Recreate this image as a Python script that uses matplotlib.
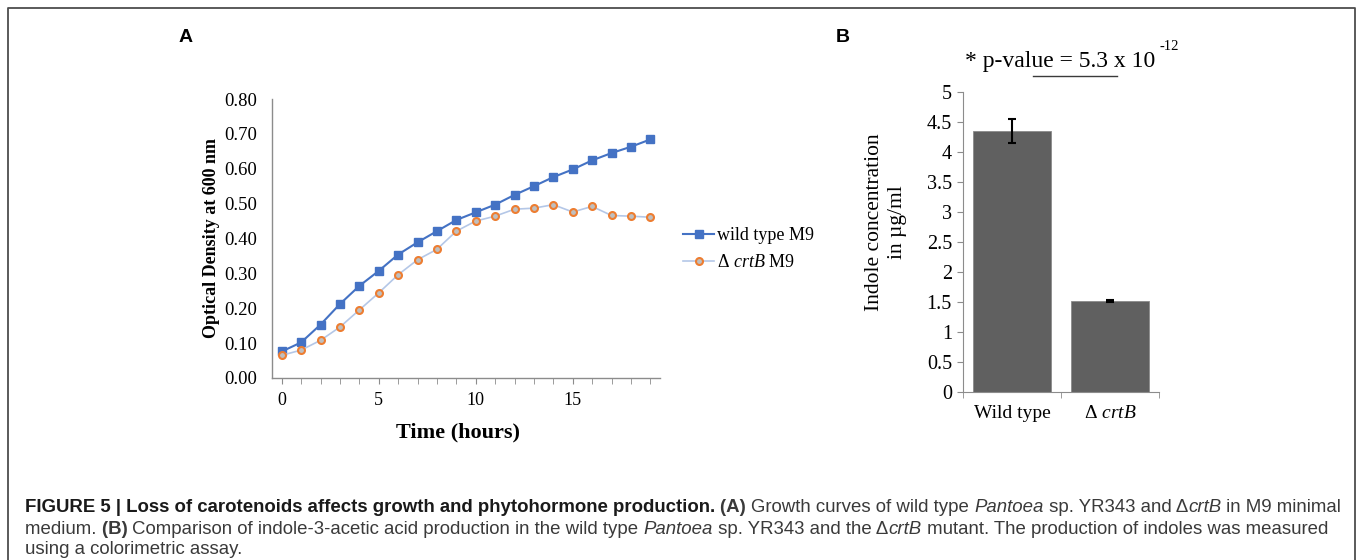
"""
Growth curves and indole production, wild type vs crtB mutant
"""
import matplotlib
matplotlib.use("Agg")
import matplotlib.pyplot as plt
from matplotlib.lines import Line2D

# panel A: optical density over time
hours = list(range(20))
od_wild = [0.076, 0.102, 0.153, 0.212, 0.264, 0.307, 0.354, 0.389, 0.421, 0.453,
           0.475, 0.497, 0.525, 0.550, 0.576, 0.598, 0.624, 0.645, 0.663, 0.684]
od_crtb = [0.065, 0.080, 0.108, 0.146, 0.195, 0.244, 0.296, 0.339, 0.369, 0.421,
           0.450, 0.464, 0.484, 0.487, 0.497, 0.476, 0.492, 0.466, 0.464, 0.461]
series_labels = ["wild type M9", "Δ $\\mathit{crtB}$ M9"]

# panel B: indole concentration
strains = ["Wild type", "Δ $\\mathit{crtB}$"]
indole = [4.35, 1.52]
indole_err = [0.20, 0.02]

W, H = 1357, 560
plt.rcParams["mathtext.fontset"] = "custom"
plt.rcParams["mathtext.rm"] = "Liberation Serif"
plt.rcParams["mathtext.it"] = "Liberation Serif:italic"
plt.rcParams["mathtext.bf"] = "Liberation Serif:bold"
SERIF = "Liberation Serif"
SANS = "Liberation Sans"


def box(x0, y0, x1, y1):
    # pixel box (top-left origin) -> figure rect
    return [x0 / W, 1 - y1 / H, (x1 - x0) / W, (y1 - y0) / H]


def fx(x):
    return x / W


def fy(y):
    return 1 - y / H


fig = plt.figure(figsize=(W / 100, H / 100), dpi=100)

# outer frame (open at bottom)
fig.add_artist(Line2D([fx(8), fx(8), fx(1355), fx(1355)], [0, fy(8), fy(8), 0],
                      color="#4d4d4d", lw=1.3, transform=fig.transFigure))

# ---------- panel A ----------
ax = fig.add_axes(box(272, 99, 660, 378))
ax.plot(hours, od_wild, color="#4472C4", lw=1.5, marker="s", ms=5.5,
        markerfacecolor="#4472C4", markeredgecolor="#4472C4", label=series_labels[0])
ax.plot(hours, od_crtb, color="#B4C7E7", lw=1.2, marker="o", ms=5,
        markerfacecolor="#BFBFBF", markeredgecolor="#ED7D31", markeredgewidth=1.5,
        label=series_labels[1])
ax.set_xlim(-0.5, 19.5)
ax.set_ylim(0, 0.8)
ax.set_yticks([i / 10 for i in range(9)])
ax.set_yticklabels([f"{i / 10:.2f}" for i in range(9)], family=SERIF, fontsize=13.5)
ax.set_xticks(hours, minor=True)
ax.set_xticks([0, 5, 10, 15])
ax.set_xticklabels(["0", "5", "10", "15"], family=SERIF, fontsize=13)
ax.tick_params(axis="y", length=0, pad=11)
ax.tick_params(axis="x", which="both", direction="out", length=4, color="#8c8c8c", pad=6)
for s in ["top", "right"]:
    ax.spines[s].set_visible(False)
for s in ["left", "bottom"]:
    ax.spines[s].set_color("#8c8c8c")
    ax.spines[s].set_linewidth(1.0)

fig.text(fx(211), fy(238), "Optical Density at 600 nm", rotation=90, family=SERIF,
         fontweight="bold", fontsize=13, ha="center", va="center")
fig.text(fx(458), fy(432), "Time (hours)", family=SERIF, fontweight="bold",
         fontsize=16, ha="center", va="center")

leg = ax.legend(loc="center left", bbox_to_anchor=(fx(667), fy(249)),
                bbox_transform=fig.transFigure, frameon=False,
                prop={"family": SERIF, "size": 13}, handlelength=1.7,
                handletextpad=0.15, labelspacing=0.55)

fig.text(fx(186), fy(37), "A", family=SANS, fontweight="bold", fontsize=14,
         ha="center", va="center")
fig.text(fx(843), fy(37), "B", family=SANS, fontweight="bold", fontsize=14,
         ha="center", va="center")

# ---------- panel B ----------
bx = fig.add_axes(box(963, 92, 1159, 392))
bx.bar(range(len(strains)), indole, width=0.8, color="#606060",
       edgecolor="#8a8a8a", linewidth=0.6)
bx.errorbar(range(len(strains)), indole, yerr=indole_err, fmt="none",
            ecolor="black", elinewidth=1.5, capsize=3, capthick=1.5)
bx.set_xlim(-0.5, 1.5)
bx.set_ylim(0, 5)
yt = [i / 2 for i in range(11)]
bx.set_yticks(yt)
bx.set_yticklabels([f"{v:g}" for v in yt], family=SERIF, fontsize=14.5)
bx.set_xticks([0, 1])
bx.set_xticklabels(strains, family=SERIF, fontsize=14)
bx.set_xticks([-0.5, 0.5, 1.5], minor=True)
bx.tick_params(axis="x", which="major", length=0, pad=9)
bx.tick_params(axis="x", which="minor", direction="out", length=4, color="#8c8c8c")
bx.tick_params(axis="y", direction="out", length=4, color="#8c8c8c", pad=4)
for s in ["top", "right"]:
    bx.spines[s].set_visible(False)
for s in ["left", "bottom"]:
    bx.spines[s].set_color("#8c8c8c")

fig.text(fx(886), fy(222), "Indole concentration\nin µg/ml", rotation=90,
         family=SERIF, fontsize=15.5, ha="center", va="center",
         multialignment="center", linespacing=1.25)

fig.canvas.draw()
renderer = fig.canvas.get_renderer()

pt = fig.text(fx(965), fy(61), "* p-value = 5.3 x 10", family=SERIF, fontsize=17,
              ha="left", va="center")
pend = pt.get_window_extent(renderer=renderer).x1
fig.text(pend / W + 4 / W, fy(46), "-12", family=SERIF, fontsize=10.5, ha="left",
         va="center")
fig.add_artist(Line2D([fx(1033), fx(1117)], [fy(76), fy(76)], color="#3a3a3a",
                      lw=1.0, transform=fig.transFigure))

# ---------- caption ----------
body = "#3a3a3a"
cap_lines = [
    [("FIGURE 5 | Loss of carotenoids affects growth and phytohormone production. ", "bold", "normal", "#1a1a1a"),
     ("(A) ", "bold", "normal", body),
     ("Growth curves of wild type ", "normal", "normal", body),
     ("Pantoea", "normal", "italic", body),
     (" sp. YR343 and Δ", "normal", "normal", body),
     ("crtB", "normal", "italic", body),
     (" in M9 minimal", "normal", "normal", body)],
    [("medium. ", "normal", "normal", body),
     ("(B) ", "bold", "normal", body),
     ("Comparison of indole-3-acetic acid production in the wild type ", "normal", "normal", body),
     ("Pantoea", "normal", "italic", body),
     (" sp. YR343 and the Δ", "normal", "normal", body),
     ("crtB", "normal", "italic", body),
     (" mutant. The production of indoles was measured", "normal", "normal", body)],
    [("using a colorimetric assay.", "normal", "normal", body)],
]
cap_y = [507, 529, 550]

for segs, yy in zip(cap_lines, cap_y):
    x = 25.0
    for txt, wt, st, col in segs:
        t = fig.text(fx(x), fy(yy), txt, family=SANS, fontsize=13.4, fontweight=wt,
                     fontstyle=st, color=col, ha="left", va="center")
        bb = t.get_window_extent(renderer=renderer)
        x += bb.width

fig.savefig("out.png", dpi=100)
